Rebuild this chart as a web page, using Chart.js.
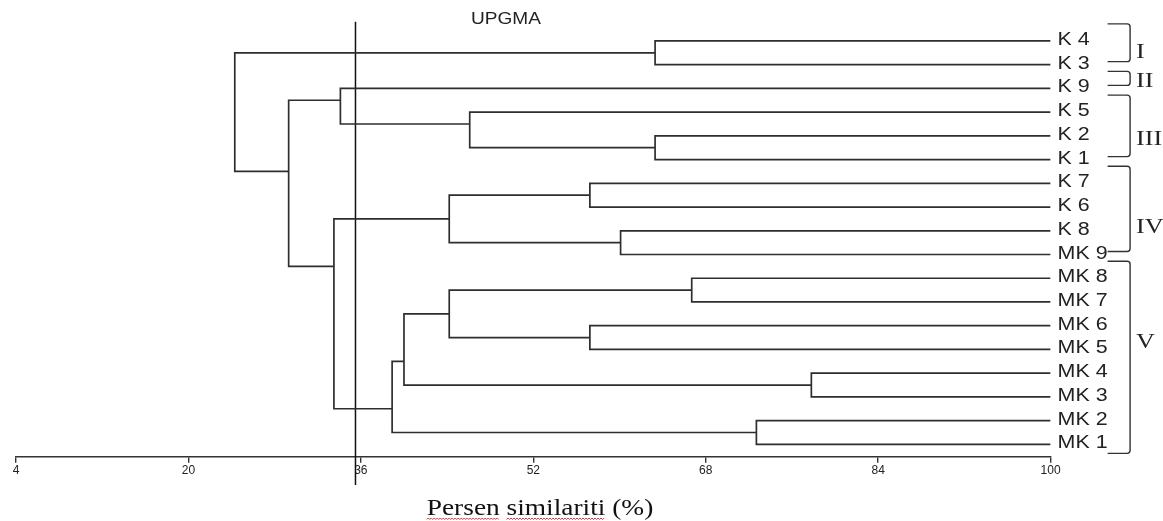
<!DOCTYPE html>
<html>
<head>
<meta charset="utf-8">
<title>UPGMA</title>
<script src="https://cdn.jsdelivr.net/npm/chart.js@4.4.1/dist/chart.umd.min.js"></script>
<style>
  html, body { margin: 0; padding: 0; background: #fff; }
  #wrap { width: 1163px; height: 521px; position: relative; }
</style>
</head>
<body>
<div id="wrap"><canvas id="myChart"></canvas></div>
<script>
// leaves, top to bottom
var leafLabels = ['K 4', 'K 3', 'K 9', 'K 5', 'K 2', 'K 1', 'K 7', 'K 6', 'K 8', 'MK 9',
  'MK 8', 'MK 7', 'MK 6', 'MK 5', 'MK 4', 'MK 3', 'MK 2', 'MK 1'];

// merges: negative = leaf number (1-based), positive = earlier merge (1-based)
var mergeLeft  = [-1, -5, -4, -3, -7, -9, 5, -11, -13, 8, -15, 10, -17, 12, 7, 4, 1];
var mergeRight = [-2, -6, 2, 3, -8, -10, 6, -12, -14, 9, -16, 11, -18, 13, 14, 15, 16];
var mergeSim   = [63.3, 63.3, 46.1, 34.1, 57.25, 60.1, 44.2, 66.7, 57.25, 44.2, 77.8, 40.0, 72.7, 38.9, 33.5, 29.3, 24.3];

var cutOff = 35.5;
var tickValues = [4, 20, 36, 52, 68, 84, 100];

var groupNames = ['I', 'II', 'III', 'IV', 'V'];
var groupFirst = [0, 2, 3, 6, 10];
var groupLast  = [1, 2, 5, 9, 17];

var lineColor = '#2e2e2e';
var textStretch = 1.19;

function buildDatasets() {
  var nodes = [];
  var sets = [];
  function info(ref) {
    if (ref < 0) {
      var i = -ref - 1;
      return {x: 100, y: i, last: i};
    }
    return nodes[ref - 1];
  }
  for (var k = 0; k < mergeSim.length; k++) {
    var a = info(mergeLeft[k]);
    var b = info(mergeRight[k]);
    var h = mergeSim[k];
    nodes.push({x: h, y: a.last + 0.5, last: b.last});
    sets.push({
      data: [{x: a.x, y: a.y}, {x: h, y: a.y}, {x: h, y: b.y}, {x: b.x, y: b.y}],
      showLine: true,
      borderColor: lineColor,
      borderWidth: 1.7,
      pointRadius: 0,
      fill: false,
      tension: 0
    });
  }
  // vertical cut-off line, runs past the plot top and bottom
  sets.push({
    data: [{x: cutOff, y: -0.81}, {x: cutOff, y: leafLabels.length + 0.71}],
    showLine: true,
    borderColor: '#111',
    borderWidth: 1.5,
    pointRadius: 0,
    clip: false
  });
  return sets;
}

function drawText(ctx, txt, x, y, font, color, align) {
  ctx.save();
  ctx.font = font;
  ctx.fillStyle = color;
  ctx.textAlign = 'left';
  ctx.textBaseline = 'alphabetic';
  var w = ctx.measureText(txt).width * textStretch;
  var left = align === 'center' ? x - w / 2 : x;
  ctx.translate(left, y);
  ctx.scale(textStretch, 1);
  ctx.fillText(txt, 0, 0);
  ctx.restore();
  return left;
}

function squiggle(ctx, x0, x1, y) {
  ctx.save();
  ctx.strokeStyle = '#e0312f';
  ctx.lineWidth = 1;
  ctx.beginPath();
  var up = true;
  ctx.moveTo(x0, y);
  for (var x = x0 + 1.5; x <= x1; x += 1.5) {
    ctx.lineTo(x, up ? y - 1.5 : y);
    up = !up;
  }
  ctx.stroke();
  ctx.restore();
}

// label rows for the group names (in leaf units)
var groupLabelRow = [0.41, 1.62, 4.09, 7.78, 12.62];

var extras = {
  id: 'extras',
  afterDraw: function(chart) {
    var ctx = chart.ctx;
    var yS = chart.scales.y;
    var area = chart.chartArea;

    // leaf labels
    for (var i = 0; i < leafLabels.length; i++) {
      drawText(ctx, leafLabels[i], area.right + 7, yS.getPixelForValue(i) + 4,
        '18px "Liberation Sans", Arial, sans-serif', '#222', 'left');
    }

    // group brackets
    ctx.save();
    ctx.strokeStyle = '#333';
    ctx.lineWidth = 1.4;
    var bx0 = area.right + 57;
    var bx1 = area.right + 79.5;
    for (var g = 0; g < groupNames.length; g++) {
      var top = yS.getPixelForValue(groupFirst[g]) - 17;
      var bottom = yS.getPixelForValue(groupLast[g]) + (g === groupNames.length - 1 ? 9 : -3);
      ctx.beginPath();
      ctx.moveTo(bx0, top);
      ctx.arcTo(bx1, top, bx1, bottom, 3);
      ctx.arcTo(bx1, bottom, bx0, bottom, 3);
      ctx.lineTo(bx0, bottom);
      ctx.stroke();
      drawText(ctx, groupNames[g], area.right + 85.5, yS.getPixelForValue(groupLabelRow[g]) + 7.5,
        '22px "Liberation Serif", "Times New Roman", serif', '#222', 'left');
    }
    ctx.restore();

    // method title
    drawText(ctx, 'UPGMA', 506, 24, '16px "Liberation Sans", Arial, sans-serif', '#222', 'center');

    // axis title with spell-check marks
    var tFont = '23px "Liberation Serif", "Times New Roman", serif';
    var t = 'Persen similariti (%)';
    var left = drawText(ctx, t, 540, 514.5, tFont, '#111', 'center');
    ctx.save();
    ctx.font = tFont;
    var w1 = ctx.measureText('Persen').width * textStretch;
    var s2 = ctx.measureText('Persen ').width * textStretch;
    var w2 = ctx.measureText('similariti').width * textStretch;
    ctx.restore();
    squiggle(ctx, left, left + w1, 519.5);
    squiggle(ctx, left + s2, left + s2 + w2, 519.5);
  }
};

function init() {
  var ctx = document.getElementById('myChart').getContext('2d');
  var myChart = new Chart(ctx, {
    type: 'scatter',
    data: {datasets: buildDatasets()},
    options: {
      responsive: true,
      maintainAspectRatio: false,
      devicePixelRatio: 1,
      animation: false,
      events: [],
      layout: {padding: {left: 16, right: 112.4, top: 21.7, bottom: 0}},
      plugins: {legend: {display: false}, tooltip: {enabled: false}},
      scales: {
        x: {
          type: 'linear',
          min: 4,
          max: 100,
          afterBuildTicks: function(scale) {
            scale.ticks = tickValues.map(function(v) { return {value: v}; });
          },
          afterFit: function(scale) { scale.height = 64.3; },
          grid: {drawOnChartArea: false, drawTicks: true, tickLength: 6, color: '#333', lineWidth: 1.4},
          border: {display: true, color: '#333', width: 1.5},
          ticks: {
            autoSkip: false,
            maxRotation: 0,
            padding: 1,
            color: '#222',
            font: {family: '"Liberation Sans", Arial, sans-serif', size: 12}
          }
        },
        y: {
          type: 'linear',
          reverse: true,
          min: -0.81,
          max: 17.52,
          display: false
        }
      }
    },
    plugins: [extras]
  });
}

init();
</script>
</body>
</html>
